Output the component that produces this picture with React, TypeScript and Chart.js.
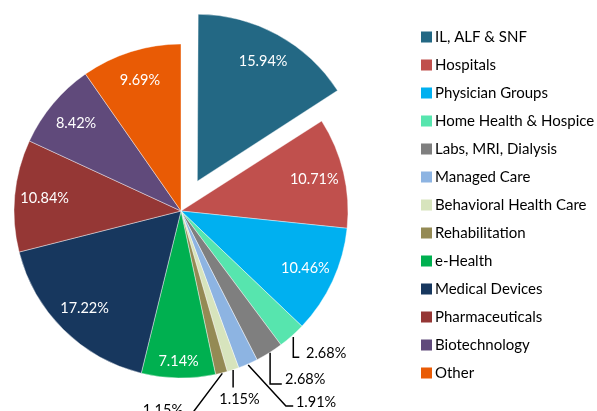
import React, { useEffect, useRef } from "react";
import { Chart, registerables } from "chart.js";
Chart.register(...registerables);

const categories = [
  "IL, ALF & SNF",
  "Hospitals",
  "Physician Groups",
  "Home Health & Hospice",
  "Labs, MRI, Dialysis",
  "Managed Care",
  "Behavioral Health Care",
  "Rehabilitation",
  "e-Health",
  "Medical Devices",
  "Pharmaceuticals",
  "Biotechnology",
  "Other",
];
const shares = [15.94, 10.71, 10.46, 2.68, 2.68, 1.91, 1.15, 1.15, 7.14, 17.22, 10.84, 8.42, 9.69];
const sliceColors = [
  "#236884", "#C0504D", "#00B0F0", "#57E5AE", "#7F7F7F", "#8DB4E2", "#D7E4BD",
  "#948A54", "#00B050", "#17375E", "#953735", "#604A7B", "#E95B05",
];
const explodedIndex = 0;

const FONT = "Lato, 'Open Sans', sans-serif";
const PIE_RADIUS = 167;
const EXPLODE = 136; // Chart.js offset (translation = offset / 4)

// Leader-line layouts for the small slices, relative to the slice's outer-edge midpoint
type Lay = { path: [number, number][]; text: [number, number]; align: CanvasTextAlign };
const outsideLabels: Record<number, Lay> = {
  3: { path: [[1.5, 1], [1.5, 21.4], [7.5, 21.4]], text: [14.2, 17.1], align: "left" },
  4: { path: [[0.8, 0], [0.8, 31.2], [12.5, 31.2]], text: [15.8, 26.2], align: "left" },
  5: { path: [[0.2, 1.1], [37.9, 42.1], [45.2, 42.1]], text: [47.9, 38.8], align: "left" },
  6: { path: [[0.1, 0.4], [0.1, 17.7]], text: [6.5, 29.7], align: "center" },
  7: { path: [[0.9, 0.3], [-28.4, 39.3], [-35, 39.3]], text: [-38.4, 37], align: "right" },
};

const offsets = shares.map((_, i) => (i === explodedIndex ? EXPLODE : 0));

const slicePlugin = {
  id: "sliceTweaks",
  afterDatasetUpdate(chart: any) {
    const meta = chart.getDatasetMeta(0);
    meta.data.forEach((arc: any, i: number) => {
      const off = offsets[i] / 4;
      if (off) {
        const circ = arc.endAngle - arc.startAngle;
        const fix = 1 - Math.sin(Math.min(Math.PI, circ));
        arc.outerRadius = PIE_RADIUS - off * fix;
      }
    });
  },
  afterDatasetsDraw(chart: any) {
    const ctx: CanvasRenderingContext2D = chart.ctx;
    const meta = chart.getDatasetMeta(0);
    ctx.save();
    ctx.font = `14.5px ${FONT}`;
    ctx.textBaseline = "middle";
    meta.data.forEach((arc: any, i: number) => {
      const { x, y, startAngle, endAngle } = arc;
      const mid = (startAngle + endAngle) / 2;
      const off = offsets[i] / 4;
      const cx = x + Math.cos(mid) * off;
      const cy = y + Math.sin(mid) * off;
      const text = shares[i].toFixed(2) + "%";
      const lay = outsideLabels[i];
      if (!lay) {
        const ratio = shares[i] < 8 ? 0.9 : 0.82;
        const lx = cx + Math.cos(mid) * PIE_RADIUS * ratio;
        const ly = cy + Math.sin(mid) * PIE_RADIUS * ratio;
        ctx.fillStyle = "#ffffff";
        ctx.textAlign = "center";
        ctx.fillText(text, lx, ly);
      } else {
        const ex = cx + Math.cos(mid) * PIE_RADIUS;
        const ey = cy + Math.sin(mid) * PIE_RADIUS;
        ctx.strokeStyle = "#000000";
        ctx.lineWidth = 1.5;
        ctx.beginPath();
        lay.path.forEach(([dx, dy], k) => {
          if (k === 0) ctx.moveTo(ex + dx, ey + dy);
          else ctx.lineTo(ex + dx, ey + dy);
        });
        ctx.stroke();
        ctx.fillStyle = "#000000";
        ctx.textAlign = lay.align;
        ctx.fillText(text, ex + lay.text[0], ey + lay.text[1]);
      }
    });
    ctx.restore();
  },
  afterDraw(chart: any) {
    const ctx: CanvasRenderingContext2D = chart.ctx;
    ctx.save();
    ctx.font = `15px ${FONT}`;
    ctx.textBaseline = "middle";
    ctx.textAlign = "left";
    categories.forEach((name, i) => {
      const cy = 37 + 28 * i;
      ctx.fillStyle = sliceColors[i];
      ctx.fillRect(421, cy - 5.5, 11, 11);
      ctx.fillStyle = "#000000";
      ctx.fillText(name, 435, cy);
    });
    ctx.restore();
  },
};

export default function App() {
  const ref = useRef<HTMLCanvasElement>(null);
  useEffect(() => {
    if (!ref.current) return;
    const chart = new Chart(ref.current, {
      type: "pie",
      data: {
        labels: categories,
        datasets: [
          {
            data: shares,
            backgroundColor: sliceColors,
            borderColor: "rgba(255,255,255,0.55)",
            borderWidth: 0.75,
            offset: offsets,
            radius: PIE_RADIUS,
          } as any,
        ],
      },
      options: {
        animation: false,
        responsive: false,
        devicePixelRatio: 1,
        layout: { padding: { left: 0, right: 235, top: 11, bottom: 0 } },
        plugins: {
          legend: { display: false },
          tooltip: { enabled: false },
        },
      } as any,
      plugins: [slicePlugin],
    });
    return () => chart.destroy();
  }, []);
  return (
    <div style={{ position: "fixed", left: 0, top: 0, width: 597, height: 411, background: "#fff" }}>
      <canvas ref={ref} width={597} height={411} style={{ width: 597, height: 411, display: "block" }} />
    </div>
  );
}
